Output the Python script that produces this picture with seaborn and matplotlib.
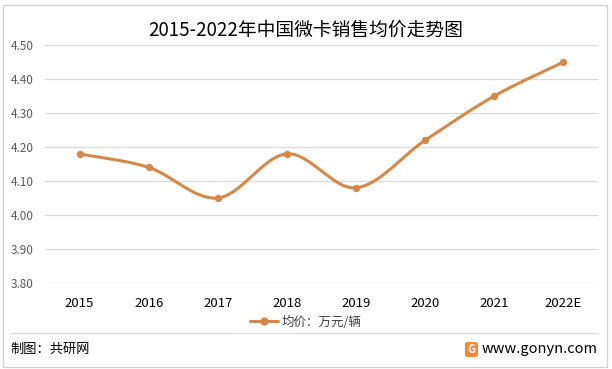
import numpy as np
import pandas as pd
import matplotlib
matplotlib.use("Agg")
import matplotlib.pyplot as plt
from matplotlib.patches import FancyBboxPatch, Rectangle
from matplotlib.lines import Line2D
import seaborn as sns

years = ["2015", "2016", "2017", "2018", "2019", "2020", "2021", "2022E"]
prices = [4.18, 4.14, 4.05, 4.18, 4.08, 4.22, 4.35, 4.45]
y_ticks = [3.80, 3.90, 4.00, 4.10, 4.20, 4.30, 4.40, 4.50]
title = "2015-2022年中国微卡销售均价走势图"
series_name = "均价：万元/辆"
source_text = "制图：共研网"
site_text = "www.gonyn.com"

COLOR = "#D4894A"

sns.set_theme(style="white")
plt.rcParams["font.family"] = ["Noto Sans CJK SC", "DejaVu Sans"]


def catmull_rom(x, y, n=40):
    x = np.asarray(x, float)
    y = np.asarray(y, float)
    px = np.concatenate([[2 * x[0] - x[1]], x, [2 * x[-1] - x[-2]]])
    py = np.concatenate([[2 * y[0] - y[1]], y, [2 * y[-1] - y[-2]]])
    xs, ys = [], []
    t = np.linspace(0, 1, n)
    for i in range(1, len(px) - 2):
        p0, p1, p2, p3 = py[i - 1], py[i], py[i + 1], py[i + 2]
        q0, q1, q2, q3 = px[i - 1], px[i], px[i + 1], px[i + 2]
        yy = 0.5 * ((2 * p1) + (-p0 + p2) * t + (2 * p0 - 5 * p1 + 4 * p2 - p3) * t ** 2 + (-p0 + 3 * p1 - 3 * p2 + p3) * t ** 3)
        xx = 0.5 * ((2 * q1) + (-q0 + q2) * t + (2 * q0 - 5 * q1 + 4 * q2 - q3) * t ** 2 + (-q0 + 3 * q1 - 3 * q2 + q3) * t ** 3)
        xs.append(xx)
        ys.append(yy)
    return np.concatenate(xs), np.concatenate(ys)


idx = np.arange(len(years))
sx, sy = catmull_rom(idx, prices)
smooth = pd.DataFrame({"x": sx, "y": sy})
points = pd.DataFrame({"x": idx, "y": prices})

fig = plt.figure(figsize=(6.12, 3.69), dpi=100)
fig.patch.set_facecolor("white")
ax = fig.add_axes([45 / 612, 1 - 283 / 369, (598 - 45) / 612, (283 - 45) / 369])

sns.lineplot(data=smooth, x="x", y="y", ax=ax, color=COLOR, linewidth=2.2, sort=False, legend=False)
sns.scatterplot(data=points, x="x", y="y", ax=ax, color=COLOR, s=28, edgecolor=COLOR, linewidth=0, zorder=5, legend=False)

ax.set_xlim(-0.5, len(years) - 0.5)
ax.set_ylim(3.80, 4.50)
ax.set_yticks(y_ticks)
ax.set_yticklabels([f"{v:.2f}" for v in y_ticks], fontsize=8.5, color="#595959")
ax.set_xticks(idx)
ax.set_xticklabels(years, fontsize=9.5, color="#000000")
ax.tick_params(axis="x", length=0, pad=10)
ax.tick_params(axis="y", length=0, pad=8)
ax.grid(axis="y", color="#D9D9D9", linewidth=0.9)
ax.set_axisbelow(True)
for s in ax.spines.values():
    s.set_visible(False)
ax.set_xlabel("")
ax.set_ylabel("")

fig.text(0.5, 1 - 30 / 369, title, ha="center", va="center", fontsize=13.5, color="#000000")

handle = Line2D([0], [0], color=COLOR, linewidth=2.2, marker="o", markersize=5)
fig.legend([handle], [series_name], loc="center", bbox_to_anchor=(0.5, 1 - 322 / 369),
           frameon=False, fontsize=9, handlelength=2.2, handletextpad=0.3, labelcolor="#404040")

fig.add_artist(Line2D([10 / 612, 598 / 612], [1 - 333 / 369, 1 - 333 / 369], color="#D9D9D9", linewidth=0.9))
fig.add_artist(Rectangle((3 / 612, 2 / 369), 604 / 612, 362 / 369, fill=False, edgecolor="#D0D0D0", linewidth=0.9))

fig.text(10 / 612, 1 - 349 / 369, source_text, ha="left", va="center", fontsize=9.5, color="#000000")
fig.add_artist(FancyBboxPatch((465 / 612, 1 - 357 / 369), 13 / 612, 15 / 369,
                              boxstyle="round,pad=0,rounding_size=0.005", facecolor="#F08A3C", edgecolor="none"))
fig.text(471.5 / 612, 1 - 349.5 / 369, "G", ha="center", va="center", fontsize=8, color="white", fontweight="bold")
fig.text(598 / 612, 1 - 349 / 369, site_text, ha="right", va="center", fontsize=10.5, color="#000000")

fig.savefig("out.png", dpi=100, facecolor="white")
